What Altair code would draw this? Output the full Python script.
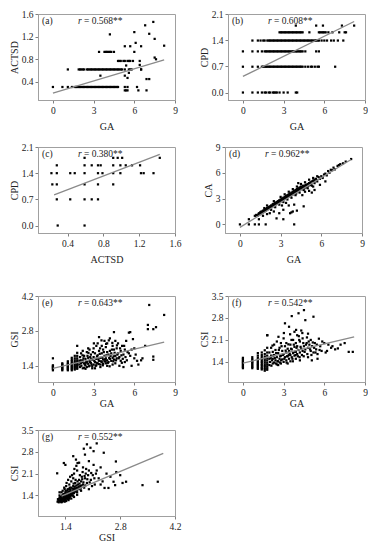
import altair as alt
import pandas as pd

FONT = "Liberation Serif"

# ---------------- data ----------------
# (a) GA vs ACTSD : rows of equal ACTSD
a_rows = {
    0.31: [0, 0.7, 1.1, 1.4, 1.6, 1.7, 1.8, 1.9, 2.0, 2.1, 2.2, 2.3, 2.4, 2.5, 2.6, 2.7, 2.8, 2.9, 3.0,
           3.1, 3.2, 3.3, 3.4, 3.5, 3.6, 3.7, 3.8, 3.9, 4.0, 4.1, 4.2, 4.3, 4.4, 4.5, 4.6, 4.7, 4.8, 5.3, 5.5, 6.2],
    0.62: [1.1, 1.9, 2.0, 2.1, 2.2, 2.3, 2.5, 2.6, 2.7, 2.8, 2.9, 3.0, 3.1, 3.2, 3.3, 3.4, 3.5, 3.6, 3.7,
           3.8, 3.9, 4.0, 4.1, 4.2, 4.3, 4.4, 4.5, 4.6, 4.7, 4.8, 4.9, 5.0, 5.1, 5.3, 5.6, 5.8, 6.5],
    0.93: [3.4, 3.8, 3.9, 4.0, 4.1, 4.2, 4.3, 4.5, 6.0],
    0.77: [4.8, 4.9, 5.0, 5.2, 5.3, 5.5, 5.6, 5.7, 5.9, 6.4],
    0.25: [5.3, 5.4, 5.5, 6.3, 6.9],
}
a_extra = [(3.5, 0.51), (4.2, 1.24), (5.3, 1.03), (5.7, 1.03), (6.0, 1.28), (6.1, 1.09), (6.5, 1.03),
           (6.8, 1.40), (7.1, 1.25), (7.4, 1.46), (7.5, 1.16), (7.5, 0.83), (7.6, 0.80), (8.2, 1.04),
           (6.4, 0.70), (6.5, 0.62), (6.9, 0.45), (7.1, 0.45), (5.5, 0.47), (5.6, 0.56), (5.3, 0.51),
           (5.4, 0.69), (5.7, 0.62)]
a_line = [(0, 0.2), (8.2, 0.79)]

# (b) GA vs CPD : rows of equal CPD
b_rows = {
    0.0: [0, 0.7, 1.1, 1.4, 1.6, 1.7, 1.9, 2.0, 2.2, 2.3, 2.4, 2.5, 2.7, 3.0, 3.3, 3.9, 4.0],
    0.69: [0, 0.7, 1.1, 1.4, 1.5, 1.6, 1.7, 1.8, 1.9, 2.0, 2.1, 2.2, 2.3, 2.4, 2.5, 2.6, 2.7, 2.8, 2.9,
           3.0, 3.1, 3.2, 3.3, 3.4, 3.5, 3.6, 3.7, 3.8, 3.9, 4.0, 4.1, 4.2, 4.3, 4.4, 4.6, 4.8, 5.0,
           5.1, 5.3, 5.5, 5.6, 6.8],
    1.10: [0, 0.7, 1.1, 1.4, 1.6, 1.7, 1.8, 1.9, 2.0, 2.1, 2.2, 2.3, 2.4, 2.5, 2.6, 2.7, 2.8, 2.9, 3.0,
           3.1, 3.2, 3.3, 3.4, 3.5, 3.6, 3.7, 3.8, 3.9, 4.0, 4.1, 4.2, 4.3, 4.4, 4.6, 5.4, 5.6],
    1.39: [0.7, 1.1, 1.3, 1.5, 1.6, 1.8, 1.9, 2.0, 2.1, 2.2, 2.3, 2.4, 2.5, 2.6, 2.7, 2.8, 2.9, 3.0,
           3.1, 3.2, 3.3, 3.4, 3.5, 3.6, 3.7, 3.8, 3.9, 4.0, 4.1, 4.2, 4.3, 4.4, 4.5, 4.6, 4.7, 4.8,
           4.9, 5.0, 5.1, 5.2, 5.3, 5.4, 5.5, 5.6, 5.8, 6.0, 6.2, 6.5, 6.7, 7.0, 7.4],
    1.61: [2.7, 2.8, 2.9, 3.0, 3.1, 3.2, 3.3, 3.4, 3.5, 3.6, 3.7, 3.8, 3.9, 4.0, 4.1, 4.2, 4.3, 4.4,
           4.9, 5.6, 5.7, 5.8, 5.9, 6.0, 6.1, 6.3, 6.6, 7.1, 7.5, 7.6],
    1.79: [3.9, 5.4, 5.9, 7.3, 8.2],
}
b_line = [(0, 0.43), (8.2, 1.9)]

# (c) ACTSD vs CPD
c_points = [(0.22, 1.40), (0.23, 1.10), (0.28, 1.61), (0.28, 1.40), (0.28, 1.10), (0.28, 0.70),
            (0.29, 0.0), (0.43, 1.40), (0.48, 1.40), (0.43, 0.70), (0.59, 1.81), (0.59, 1.61),
            (0.59, 1.40), (0.59, 1.10), (0.59, 0.70), (0.59, 0.0), (0.67, 1.61), (0.67, 0.70),
            (0.74, 1.61), (0.77, 1.61), (0.74, 1.40), (0.74, 1.10), (0.74, 0.70), (0.79, 1.40),
            (0.91, 1.81), (0.91, 1.61), (0.91, 1.40), (0.91, 1.10), (0.96, 1.81), (0.99, 1.61),
            (0.99, 1.40), (1.01, 1.81), (1.05, 1.61), (1.12, 1.61), (1.21, 1.61), (1.22, 1.40),
            (1.25, 1.40), (1.36, 1.40), (1.43, 1.81)]
c_line = [(0.25, 0.82), (1.43, 1.9)]

# (d) GA vs CA
d_points = [(0, 0), (0.66, 0), (0.66, 0.6), (1.1, 0), (1.1, 1.0), (1.4, 0), (1.9, 0), (1.4, 0.6),
            (1.2, 1.1), (1.3, 1.0), (1.4, 1.3), (1.5, 1.2), (1.5, 1.4), (1.6, 1.3), (1.6, 1.5), (1.7, 1.4),
            (1.7, 1.6), (1.8, 1.5), (1.8, 1.7), (1.9, 1.6), (1.9, 1.8), (2.0, 1.7), (2.0, 1.9), (2.1, 1.8),
            (2.1, 2.0), (2.2, 1.9), (2.2, 2.1), (2.3, 2.0), (2.3, 2.2), (2.4, 2.1), (2.4, 2.3), (2.5, 2.2),
            (2.5, 2.4), (2.6, 2.3), (2.6, 2.5), (2.7, 2.4), (2.7, 2.6), (2.8, 2.5), (2.8, 2.7), (2.9, 2.6),
            (2.9, 2.8), (3.0, 2.7), (3.0, 2.9), (3.1, 2.8), (3.1, 3.0), (3.2, 2.9), (3.2, 3.1), (3.3, 3.0),
            (3.3, 3.2), (3.4, 3.1), (3.4, 3.3), (3.5, 3.2), (3.5, 3.4), (3.6, 3.3), (3.6, 3.5), (3.7, 3.4),
            (3.7, 3.6), (3.8, 3.5), (3.8, 3.7), (3.9, 3.6), (3.9, 3.8), (4.0, 3.7), (4.0, 3.9), (4.1, 3.8),
            (4.1, 4.0), (4.2, 3.9), (4.2, 4.1), (4.3, 4.0), (4.3, 4.2), (4.4, 4.1), (4.4, 4.3), (4.5, 4.2),
            (4.5, 4.4), (4.6, 4.3), (4.7, 4.4), (4.8, 4.5), (4.9, 4.6), (5.0, 4.7), (5.1, 4.8), (5.2, 4.9),
            (5.3, 5.0), (5.4, 5.1), (5.5, 5.2), (5.6, 5.3), (5.8, 5.5), (6.0, 5.6), (6.2, 5.8), (6.5, 6.2),
            (6.6, 6.0), (6.9, 6.6), (7.2, 6.8), (7.4, 7.0), (7.6, 7.1), (8.2, 7.6),
            (2.3, 1.7), (2.6, 2.0), (2.9, 2.3), (3.2, 2.6), (3.5, 2.9), (3.8, 3.1), (4.1, 3.4), (4.4, 3.7),
            (4.7, 4.0), (5.0, 4.2), (5.3, 4.5), (3.0, 3.2), (3.3, 3.5), (3.6, 3.8), (3.9, 4.1), (4.2, 4.4),
            (4.5, 4.7), (4.8, 4.9), (5.1, 5.2), (5.4, 5.4), (5.7, 5.6), (2.5, 2.7), (2.0, 2.2), (1.8, 1.9),
            (4.9, 4.3), (5.2, 4.6), (5.5, 4.8), (5.7, 5.0), (6.1, 5.4), (6.4, 5.7), (6.8, 6.3), (7.0, 6.4),
            (2.7, 0.7), (3.2, 0.6), (3.7, 1.3), (3.8, 1.4), (3.9, 1.5), (4.2, 1.6), (4.0, 0), (4.7, 2.1),
            (4.0, 2.3), (3.6, 2.2), (2.9, 1.3), (3.2, 1.7), (2.5, 1.5), (2.2, 1.3), (5.3, 3.7), (5.5, 4.0),
            (4.3, 4.8), (5.9, 4.6), (6.3, 5.0), (5.1, 3.9), (4.8, 3.8), (4.6, 3.4), (5.4, 4.4), (3.1, 2.2),
            (3.4, 2.5), (2.0, 1.2), (1.7, 1.0),
            (1.35, 1.15), (1.55, 1.45), (1.75, 1.55), (1.95, 1.75), (2.15, 1.95), (2.35, 2.05), (2.45, 2.35),
            (2.65, 2.45), (2.85, 2.55), (2.95, 2.75), (3.05, 2.85), (3.15, 2.95), (3.25, 3.05), (3.35, 3.15),
            (3.45, 3.0), (3.55, 3.3), (3.65, 3.45), (3.75, 3.3), (3.85, 3.6), (3.95, 3.5), (4.05, 3.85),
            (4.15, 3.6), (4.25, 4.0), (4.35, 3.85), (4.55, 4.1), (4.65, 4.5), (4.75, 4.2), (4.85, 4.6),
            (5.05, 4.5), (5.25, 4.7), (5.45, 5.0), (5.65, 5.15), (5.9, 5.3), (6.3, 5.9), (6.7, 6.35),
            (7.3, 6.9), (7.8, 7.3)]
d_line = [(0, -0.35), (8.2, 7.55)]

# (e) GA vs GSI : columns at low GA plus a cloud
e_cols = {
    0.0: [1.22, 1.27, 1.31, 1.35, 1.38, 1.42, 1.70],
    0.69: [1.22, 1.26, 1.30, 1.34, 1.38, 1.42, 1.46, 1.50],
    1.10: [1.22, 1.26, 1.30, 1.34, 1.38, 1.42, 1.47, 1.52, 1.58],
    1.39: [1.22, 1.27, 1.32, 1.36, 1.41, 1.46, 1.52, 1.58, 1.64, 1.72],
    1.61: [1.25, 1.30, 1.35, 1.40, 1.45, 1.50, 1.55, 1.62, 1.70, 1.80],
    1.79: [1.28, 1.33, 1.38, 1.43, 1.48, 1.55, 1.62, 1.70, 1.80, 1.92, 2.20],
}
e_extra = [(1.95, 1.45), (1.95, 1.6), (2.0, 1.35), (2.0, 1.75), (2.08, 1.5), (2.08, 1.9), (2.1, 1.4),
           (2.2, 1.62), (2.2, 1.3), (2.2, 2.0), (2.3, 1.5), (2.3, 1.8), (2.4, 1.42), (2.4, 1.68),
           (2.5, 1.35), (2.5, 1.55), (2.5, 1.95), (2.6, 1.48), (2.6, 1.72), (2.7, 1.4), (2.7, 1.6),
           (2.7, 2.05), (2.8, 1.52), (2.8, 1.85), (2.9, 1.38), (2.9, 1.65), (3.0, 1.45), (3.0, 1.75),
           (3.0, 2.1), (3.1, 1.55), (3.1, 1.9), (3.2, 1.42), (3.2, 1.68), (3.3, 1.5), (3.3, 1.82),
           (3.3, 2.3), (3.4, 1.6), (3.4, 2.0), (3.4, 2.55), (3.5, 1.45), (3.5, 1.72), (3.6, 1.55),
           (3.6, 1.9), (3.6, 2.2), (3.7, 1.48), (3.7, 1.65), (3.7, 2.05), (3.8, 1.58), (3.8, 1.8),
           (3.8, 2.4), (3.9, 1.5), (3.9, 1.7), (3.9, 2.15), (4.0, 1.62), (4.0, 1.95), (4.0, 2.3),
           (4.1, 1.55), (4.1, 1.85), (4.2, 1.68), (4.2, 2.0), (4.2, 2.5), (4.3, 1.6), (4.3, 1.9),
           (4.4, 1.72), (4.4, 2.2), (4.5, 1.65), (4.5, 2.05), (4.5, 2.75), (4.6, 1.8), (4.6, 2.4),
           (4.7, 1.7), (4.7, 2.1), (4.8, 1.9), (4.8, 2.3), (4.9, 1.75), (5.0, 2.0), (5.0, 1.6),
           (5.1, 2.2), (5.2, 1.85), (5.3, 2.05), (5.3, 1.55), (5.4, 2.4), (5.5, 1.95), (5.6, 2.73),
           (5.7, 2.75), (5.7, 1.8), (5.8, 1.4), (5.9, 2.47), (6.0, 2.1), (6.0, 1.7), (6.2, 1.6),
           (6.5, 1.62), (6.3, 1.45), (6.8, 2.2), (7.0, 2.87), (7.0, 3.04), (7.1, 3.84), (7.4, 2.87),
           (7.6, 2.95), (7.4, 1.77), (7.4, 1.64), (8.2, 3.44), (6.6, 1.7), (5.2, 1.35), (4.9, 1.4),
           (4.4, 1.45), (3.2, 2.2), (2.6, 2.1), (2.3, 1.32), (2.9, 1.3), (3.5, 1.35), (4.0, 1.4),
           (4.6, 1.5), (3.1, 1.3), (2.4, 1.28),
           (2.15, 1.55), (2.25, 1.7), (2.35, 1.45), (2.45, 1.58), (2.55, 1.8), (2.65, 1.38), (2.75, 1.75),
           (2.85, 1.45), (2.95, 1.95), (3.05, 1.6), (3.15, 1.4), (3.25, 1.78), (3.35, 1.66), (3.45, 1.88),
           (3.55, 1.58), (3.65, 1.72), (3.75, 1.95), (3.85, 1.66), (3.95, 1.82), (4.05, 1.52), (4.15, 1.72),
           (4.25, 1.8), (4.35, 2.05), (4.45, 1.58), (4.55, 1.92), (4.65, 1.62), (4.75, 1.85), (4.85, 1.7),
           (4.95, 2.1), (5.05, 1.82), (5.15, 1.68), (5.25, 2.2), (5.35, 1.75), (5.45, 1.62), (5.6, 1.9),
           (5.8, 2.05), (6.1, 1.85), (2.05, 1.62), (2.18, 1.82), (2.62, 1.92), (3.02, 2.3), (3.48, 2.1),
           (3.58, 2.42), (3.92, 2.28), (4.12, 2.42), (4.38, 2.32), (4.72, 2.22), (3.22, 1.52), (3.68, 1.42),
           (4.18, 1.38), (2.82, 1.68), (3.38, 1.47), (3.88, 1.58), (4.48, 1.78), (5.08, 1.52), (2.42, 1.52),
           (2.72, 1.55), (1.98, 1.55)]
e_line = [(0, 1.3), (8.2, 2.35)]

# (f) GA vs CSI
f_cols = {
    0.0: [1.20, 1.24, 1.28, 1.32, 1.36, 1.40, 1.44, 1.48, 1.53],
    0.69: [1.20, 1.24, 1.28, 1.32, 1.36, 1.40, 1.44, 1.49, 1.55],
    1.10: [1.18, 1.22, 1.26, 1.30, 1.34, 1.38, 1.42, 1.47, 1.53, 1.60, 1.68],
    1.39: [1.16, 1.20, 1.25, 1.30, 1.35, 1.40, 1.45, 1.50, 1.56, 1.62, 1.70],
    1.61: [1.12, 1.17, 1.22, 1.27, 1.32, 1.38, 1.44, 1.50, 1.57, 1.65, 1.77],
    1.79: [1.15, 1.20, 1.26, 1.32, 1.38, 1.45, 1.52, 1.60, 1.70, 1.85, 2.25],
}
f_extra = [(1.95, 1.3), (1.95, 1.5), (1.95, 1.7), (2.0, 1.4), (2.08, 1.6), (2.08, 1.85), (2.1, 1.28),
           (2.2, 1.5), (2.2, 1.72), (2.3, 1.38), (2.3, 1.62), (2.3, 1.95), (2.4, 1.45), (2.4, 1.78),
           (2.5, 1.32), (2.5, 1.55), (2.5, 2.05), (2.6, 1.42), (2.6, 1.68), (2.7, 1.5), (2.7, 1.85),
           (2.8, 1.35), (2.8, 1.6), (2.8, 2.0), (2.9, 1.48), (2.9, 1.75), (3.0, 1.4), (3.0, 1.65),
           (3.0, 2.15), (3.1, 1.55), (3.1, 1.9), (3.1, 2.63), (3.2, 1.45), (3.2, 1.7), (3.2, 2.0),
           (3.3, 1.58), (3.3, 1.82), (3.4, 1.5), (3.4, 1.75), (3.4, 2.52), (3.5, 1.62), (3.5, 1.95),
           (3.6, 1.55), (3.6, 1.8), (3.6, 2.86), (3.7, 1.68), (3.7, 2.1), (3.8, 1.6), (3.8, 1.88),
           (3.8, 2.36), (3.9, 1.72), (3.9, 2.0), (4.0, 1.65), (4.0, 1.9), (4.0, 2.25), (4.1, 1.78),
           (4.1, 2.95), (4.2, 1.7), (4.2, 2.05), (4.3, 1.82), (4.3, 2.4), (4.4, 1.75), (4.4, 2.15),
           (4.5, 1.9), (4.5, 3.05), (4.6, 1.8), (4.6, 2.73), (4.7, 2.0), (4.8, 1.85), (4.8, 2.3),
           (4.9, 1.95), (5.0, 1.75), (5.0, 2.1), (5.1, 1.9), (5.2, 2.84), (5.2, 1.7), (5.3, 2.0),
           (5.4, 1.8), (5.5, 1.65), (5.6, 2.14), (5.7, 1.9), (5.8, 1.75), (6.0, 2.0), (6.1, 1.7),
           (6.3, 1.95), (6.5, 1.85), (6.8, 1.8), (7.0, 1.83), (7.2, 1.95), (7.5, 2.0), (7.8, 1.72),
           (8.1, 1.72), (1.8, 2.25), (2.6, 1.3), (3.3, 1.35), (4.2, 1.45), (4.8, 1.55), (5.5, 1.5),
           (2.2, 1.35), (3.9, 1.5), (3.5, 1.42),
           (2.15, 1.45), (2.25, 1.6), (2.35, 1.52), (2.45, 1.68), (2.55, 1.42), (2.65, 1.78), (2.75, 1.58),
           (2.85, 1.9), (2.95, 1.62), (3.05, 1.5), (3.15, 1.76), (3.25, 1.58), (3.35, 1.96), (3.45, 1.66),
           (3.55, 1.82), (3.65, 1.5), (3.75, 1.95), (3.85, 1.72), (3.95, 1.85), (4.05, 1.58), (4.15, 2.1),
           (4.25, 1.88), (4.35, 1.62), (4.45, 2.0), (4.55, 1.72), (4.65, 1.95), (4.75, 1.65), (4.85, 2.05),
           (4.95, 1.8), (5.05, 1.62), (5.15, 2.02), (5.25, 1.85), (5.35, 1.7), (5.45, 1.95), (5.65, 1.78),
           (5.85, 2.05), (6.2, 1.75), (6.6, 1.9), (2.05, 1.52), (2.18, 1.92), (2.62, 2.2), (3.02, 2.32),
           (3.48, 2.28), (3.58, 2.1), (3.92, 2.42), (4.12, 2.22), (4.38, 2.32), (4.72, 2.18), (3.22, 1.38),
           (3.68, 1.42), (4.18, 1.55), (2.82, 1.45), (3.38, 1.62), (3.88, 1.62), (4.48, 1.58), (5.08, 1.45),
           (2.42, 1.35), (2.72, 1.38)]
f_line = [(0, 1.36), (8.2, 2.2)]

# (g) GSI vs CSI
g_points = [(1.2, 1.2), (1.22, 1.25), (1.24, 1.3), (1.25, 1.22), (1.27, 1.28), (1.28, 1.35), (1.3, 1.24),
            (1.3, 1.32), (1.32, 1.4), (1.33, 1.27), (1.35, 1.35), (1.35, 1.45), (1.37, 1.3), (1.38, 1.4),
            (1.4, 1.25), (1.4, 1.35), (1.4, 1.5), (1.42, 1.43), (1.43, 1.32), (1.45, 1.4), (1.45, 1.55),
            (1.47, 1.35), (1.48, 1.48), (1.5, 1.42), (1.5, 1.6), (1.52, 1.38), (1.52, 1.52), (1.55, 1.45),
            (1.55, 1.65), (1.57, 1.5), (1.58, 1.4), (1.6, 1.55), (1.6, 1.7), (1.62, 1.48), (1.63, 1.62),
            (1.65, 1.52), (1.65, 1.8), (1.67, 1.58), (1.7, 1.65), (1.7, 1.5), (1.72, 1.75), (1.75, 1.6),
            (1.75, 1.9), (1.78, 1.7), (1.8, 1.55), (1.8, 1.85), (1.82, 2.0), (1.85, 1.75), (1.88, 1.65),
            (1.9, 1.95), (1.92, 2.1), (1.95, 1.8), (2.0, 2.2), (2.05, 1.9), (2.1, 2.05), (2.15, 1.75),
            (1.25, 1.4), (1.3, 1.5), (1.28, 1.2), (1.35, 1.22), (1.45, 1.28), (1.5, 1.3), (1.6, 1.4),
            (1.7, 1.42), (1.38, 1.6), (1.42, 1.7), (1.5, 1.75), (1.55, 1.85), (1.6, 1.95), (1.62, 2.1),
            (1.19, 2.11), (1.36, 2.44), (1.4, 2.38), (1.6, 2.66), (1.67, 2.55), (1.71, 2.44), (1.75, 2.45),
            (1.87, 2.9), (1.9, 2.71), (1.95, 3.04), (2.04, 2.93), (2.12, 2.82), (2.2, 3.07), (2.38, 2.77),
            (2.12, 2.38), (2.2, 2.2), (2.25, 1.95), (2.5, 1.64), (2.4, 1.64), (2.63, 1.84), (2.67, 1.73),
            (2.69, 2.49), (2.86, 1.8), (2.95, 1.84), (3.37, 1.73), (3.76, 1.84), (2.3, 2.3), (2.45, 2.1),
            (2.55, 2.0), (2.0, 1.6), (2.3, 1.75), (1.85, 2.3), (1.7, 2.2), (2.0, 2.5), (2.7, 2.15),
            (2.8, 2.05), (2.35, 1.85),
            (1.21, 1.28), (1.23, 1.18), (1.26, 1.34), (1.29, 1.26), (1.31, 1.38), (1.31, 1.2), (1.34, 1.3),
            (1.36, 1.25), (1.36, 1.4), (1.39, 1.33), (1.39, 1.45), (1.41, 1.3), (1.41, 1.55), (1.44, 1.37),
            (1.44, 1.47), (1.46, 1.32), (1.46, 1.6), (1.49, 1.4), (1.49, 1.52), (1.51, 1.35), (1.51, 1.65),
            (1.53, 1.45), (1.53, 1.58), (1.56, 1.4), (1.56, 1.52), (1.58, 1.62), (1.59, 1.48), (1.61, 1.6),
            (1.61, 1.78), (1.64, 1.55), (1.64, 1.68), (1.66, 1.62), (1.66, 1.9), (1.68, 1.72), (1.69, 1.55),
            (1.71, 1.85), (1.73, 1.62), (1.74, 1.68), (1.76, 1.78), (1.77, 2.05), (1.79, 1.62), (1.81, 1.72),
            (1.83, 1.92), (1.84, 2.15), (1.86, 1.82), (1.89, 2.02), (1.91, 1.72), (1.93, 2.25), (1.96, 1.92),
            (1.98, 2.05), (2.02, 1.82), (2.06, 2.12), (2.08, 1.7), (2.14, 1.95), (2.18, 2.1), (1.33, 1.55),
            (1.37, 1.65), (1.43, 1.8), (1.47, 1.9), (1.52, 2.0), (1.57, 2.05), (1.63, 2.25), (1.68, 2.35),
            (1.3, 1.18), (1.38, 1.2), (1.42, 1.22), (1.48, 1.25), (1.55, 1.3), (1.62, 1.35), (1.25, 1.5)]
g_line = [(1.3, 1.38), (3.9, 2.75)]

r_values = ["= 0.568**", "= 0.608**", "= 0.380**", "= 0.962**", "= 0.643**", "= 0.542**", "= 0.552**"]
tags = ["(a)", "(b)", "(c)", "(d)", "(e)", "(f)", "(g)"]


def rows_df(rows, extra=()):
    xs, ys = [], []
    for y, xl in rows.items():
        for x in xl:
            xs.append(x)
            ys.append(y)
    for x, y in extra:
        xs.append(x)
        ys.append(y)
    return pd.DataFrame({"x": xs, "y": ys})


def cols_df(cols, extra=()):
    xs, ys = [], []
    for x, yl in cols.items():
        for y in yl:
            xs.append(x)
            ys.append(y)
    for x, y in extra:
        xs.append(x)
        ys.append(y)
    return pd.DataFrame({"x": xs, "y": ys})


def pairs_df(p):
    return pd.DataFrame({"x": [a for a, b in p], "y": [b for a, b in p]})


W, H = 137, 86
FS = 9.5


def panel(df, line, xdom, ydom, xticks, yticks, xfmt, yfmt, xtitle, ytitle, tag, rtext, xtp):
    X = alt.X("x:Q", scale=alt.Scale(domain=xdom, nice=False, zero=False),
              axis=alt.Axis(values=xticks, format=xfmt, title=xtitle, labelFlush=False, titlePadding=xtp))
    Y = alt.Y("y:Q", scale=alt.Scale(domain=ydom, nice=False, zero=False),
              axis=alt.Axis(values=yticks, format=yfmt, title=ytitle))
    pts = alt.Chart(df).mark_square(size=5, color="black", opacity=1).encode(x=X, y=Y)
    ln = alt.Chart(pairs_df(line)).mark_line(color="#8a8a8a", strokeWidth=1.3).encode(x=X, y=Y)
    lab = pd.DataFrame({"t": [tag], "r": ["r"], "v": [rtext]})
    base = alt.Chart(lab)
    t1 = base.mark_text(align="left", baseline="middle", font=FONT, fontSize=FS, color="#222").encode(
        x=alt.value(4), y=alt.value(7), text="t:N")
    t2 = base.mark_text(align="left", baseline="middle", font=FONT, fontSize=FS, fontStyle="italic",
                        color="#222").encode(x=alt.value(40), y=alt.value(7), text="r:N")
    t3 = base.mark_text(align="left", baseline="middle", font=FONT, fontSize=FS, color="#222").encode(
        x=alt.value(46), y=alt.value(7), text="v:N")
    return alt.layer(pts, ln, t1, t2, t3).properties(width=W, height=H)


ga_dom = [-1.1, 9]
ga_ticks = [0, 3, 6, 9]

pa = panel(rows_df(a_rows, a_extra), a_line, ga_dom, [0.08, 1.6], ga_ticks, [0.4, 0.8, 1.2, 1.6],
           "d", ".1f", "GA", "ACTSD", tags[0], r_values[0], 7)
pb = panel(rows_df(b_rows), b_line, ga_dom, [-0.2, 2.1], ga_ticks, [0.0, 0.7, 1.4, 2.1],
           "d", ".1f", "GA", "CPD", tags[1], r_values[1], 7)
pc = panel(pairs_df(c_points), c_line, [0.07, 1.6], [-0.2, 2.1], [0.4, 0.8, 1.2, 1.6], [0.0, 0.7, 1.4, 2.1],
           ".1f", ".1f", "ACTSD", "CPD", tags[2], r_values[2], 7)
pd_ = panel(pairs_df(d_points), d_line, ga_dom, [-1.0, 9], ga_ticks, [0, 3, 6, 9],
            "d", "d", "GA", "CA", tags[3], r_values[3], 7)
pe = panel(cols_df(e_cols, e_extra), e_line, ga_dom, [0.75, 4.2], ga_ticks, [1.4, 2.8, 4.2],
           "d", ".1f", "GA", "GSI", tags[4], r_values[4], 2)
pf = panel(cols_df(f_cols, f_extra), f_line, ga_dom, [0.76, 3.5], ga_ticks, [1.4, 2.1, 2.8, 3.5],
           "d", ".1f", "GA", "CSI", tags[5], r_values[5], 2)
pg = panel(pairs_df(g_points), g_line, [0.7, 4.2], [0.74, 3.5], [1.4, 2.8, 4.2], [1.4, 2.1, 2.8, 3.5],
           ".1f", ".1f", "GSI", "CSI", tags[6], r_values[6], 2)

HS = 20
row1 = alt.hconcat(pa, pb, spacing=HS)
row2 = alt.hconcat(pc, pd_, spacing=HS)
row3 = alt.hconcat(pe, pf, spacing=HS)
row4 = alt.hconcat(pg, spacing=HS)

top = alt.vconcat(row1, row2, spacing=9)
bottom = alt.vconcat(row3, row4, spacing=15)

chart = alt.vconcat(top, bottom, spacing=25).properties(
    padding={"left": 0, "top": 0, "right": 0, "bottom": 0}
).configure_view(
    stroke="#a0a0a0", strokeWidth=1
).configure_axis(
    grid=False, labelFont=FONT, titleFont=FONT, labelFontSize=FS, titleFontSize=10,
    titleFontWeight="normal", labelColor="#222", titleColor="#222",
    domainColor="#a0a0a0", tickColor="#808080", tickSize=3, labelPadding=2
).configure_axisY(titlePadding=2)

chart.save("out.html", embed_options={"renderer": "svg", "actions": False})
